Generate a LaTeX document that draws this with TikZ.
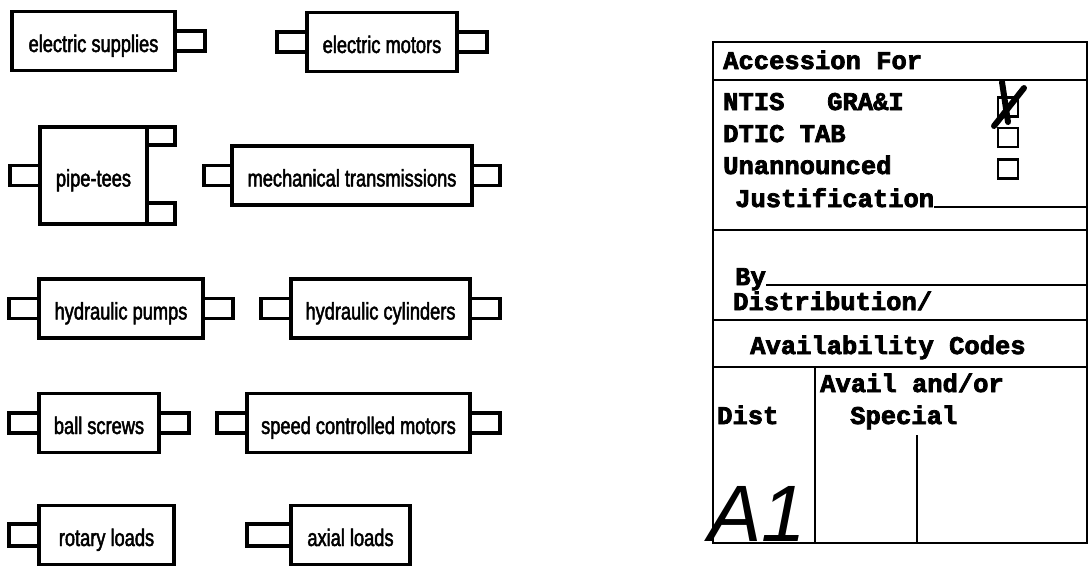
\documentclass[tikz,border=0pt]{standalone}
\usepackage{fontspec}
\usetikzlibrary{positioning, calc}
\newfontfamily\unitfont[FakeStretch=0.76, FakeBold=2]{Liberation Sans}
\newfontfamily\formfont[BoldFeatures={FakeBold=3}]{Liberation Mono}
\newfontfamily\handfont{Liberation Sans}

\tikzset{
    unitbox/.style={
        rectangle,
        draw,
        line width=3.2pt,
        outer sep=0pt,
        inner sep=0pt,
        minimum height=59pt,
        text height=24pt,
        text depth=2pt,
        font=\unitfont\fontsize{24}{24}\selectfont
    },
    portbox/.style={
        rectangle,
        draw,
        line width=3.2pt,
        outer sep=0pt,
        inner sep=0pt,
        minimum width=30pt,
        minimum height=20pt
    },
    formtext/.style={
        anchor=base west,
        inner sep=0pt,
        font=\formfont\bfseries\fontsize{25.5}{25.5}\selectfont
    },
    formline/.style={line width=2.4pt},
    tickbox/.style={
        rectangle,
        draw,
        line width=2.2pt,
        inner sep=0pt,
        minimum width=20pt,
        minimum height=19pt
    }
}

\begin{document}
\begin{tikzpicture}[x=1pt, y=-1pt]
\useasboundingbox (0,0) rectangle (1092,565);

% units with their ports
\node[unitbox, minimum width=163pt] (esup) at (93.5,41) {electric supplies};
\node[portbox, anchor=west] (esup-r) at (esup.east) {};

\node[unitbox, minimum width=150pt] (emot) at (382,42) {electric motors};
\node[portbox, anchor=east] (emot-l) at (emot.west) {};
\node[portbox, anchor=west] (emot-r) at (emot.east) {};

\node[unitbox, minimum width=107pt, minimum height=97pt] (ptee) at (93.5,175.5) {pipe-tees};
\node[portbox, anchor=east] (ptee-l) at (ptee.west) {};
\node[portbox, anchor=north west, minimum width=28pt, minimum height=18pt] (ptee-t) at (ptee.north east) {};
\node[portbox, anchor=south west, minimum width=28pt, minimum height=21pt] (ptee-b) at (ptee.south east) {};

\node[unitbox, minimum width=240pt] (mtra) at (352,175.5) {mechanical transmissions};
\node[portbox, anchor=east, minimum width=28pt] (mtra-l) at (mtra.west) {};
\node[portbox, anchor=west, minimum width=28pt] (mtra-r) at (mtra.east) {};

\node[unitbox, minimum width=164pt] (hpum) at (121,308.5) {hydraulic pumps};
\node[portbox, anchor=east] (hpum-l) at (hpum.west) {};
\node[portbox, anchor=west] (hpum-r) at (hpum.east) {};

\node[unitbox, minimum width=179pt] (hcyl) at (380.5,308.5) {hydraulic cylinders};
\node[portbox, anchor=east] (hcyl-l) at (hcyl.west) {};
\node[portbox, anchor=west] (hcyl-r) at (hcyl.east) {};

\node[unitbox, minimum width=120pt] (bscr) at (99,423) {ball screws};
\node[portbox, anchor=east] (bscr-l) at (bscr.west) {};
\node[portbox, anchor=west] (bscr-r) at (bscr.east) {};

\node[unitbox, minimum width=223pt] (smot) at (358.5,423) {speed controlled motors};
\node[portbox, anchor=east] (smot-l) at (smot.west) {};
\node[portbox, anchor=west] (smot-r) at (smot.east) {};

\node[unitbox, minimum width=135pt] (rlod) at (106.5,535) {rotary loads};
\node[portbox, anchor=east, minimum height=22pt] (rlod-l) at (rlod.west) {};

\node[unitbox, minimum width=119pt] (alod) at (350.5,535) {axial loads};
\node[portbox, anchor=east, minimum width=44pt, minimum height=22pt] (alod-l) at (alod.west) {};

% accession form
\coordinate (fr) at (1087,0);
\draw[formline] (713,42) rectangle (1087,543);
\draw[formline] (713,80) -- (1087,80);
\draw[formline] (713,230) -- (1087,230);
\draw[formline] (713,320) -- (1087,320);
\draw[formline] (713,367) -- (1087,367);
\draw[formline] (815,367) -- (815,543);
\draw[formline] (917,435) -- (917,543);

\node[formtext] (acc) at (723,69) {Accession For};
\node[formtext] (ntis) at (723,110) {NTIS};
\node[formtext] (gra) at (827,110) {GRA\&I};
\node[formtext] (dtic) at (723,142) {DTIC TAB};
\node[formtext] (unan) at (723,174) {Unannounced};
\node[formtext] (just) at (735,207) {Justification};
\node[formtext] (by) at (735,285) {By};
\node[formtext] (distr) at (733,310) {Distribution/};
\node[formtext] (avc) at (750,354) {Availability Codes};
\node[formtext] (aao) at (820,392) {Avail and/or};
\node[formtext] (dst) at (717,424) {Dist};
\node[formtext] (spc) at (850,424) {Special};

\draw[formline] (just.base east) -- (just.base east -| fr);
\draw[formline] (by.base east) -- (by.base east -| fr);

\node[tickbox] (cb1) at (1008,107) {};
\node[tickbox] (cb2) at (1008,137.5) {};
\node[tickbox] (cb3) at (1008,169) {};
\draw[line width=6pt, line cap=round] (1002,82) -- (1008,122);
\draw[line width=6pt, line cap=round] (1024,88) -- (994,126);

\node[anchor=base west, inner sep=0pt, font=\handfont\itshape\fontsize{80}{80}\selectfont] (sig) at (708,541) {A1};
\end{tikzpicture}
\end{document}
